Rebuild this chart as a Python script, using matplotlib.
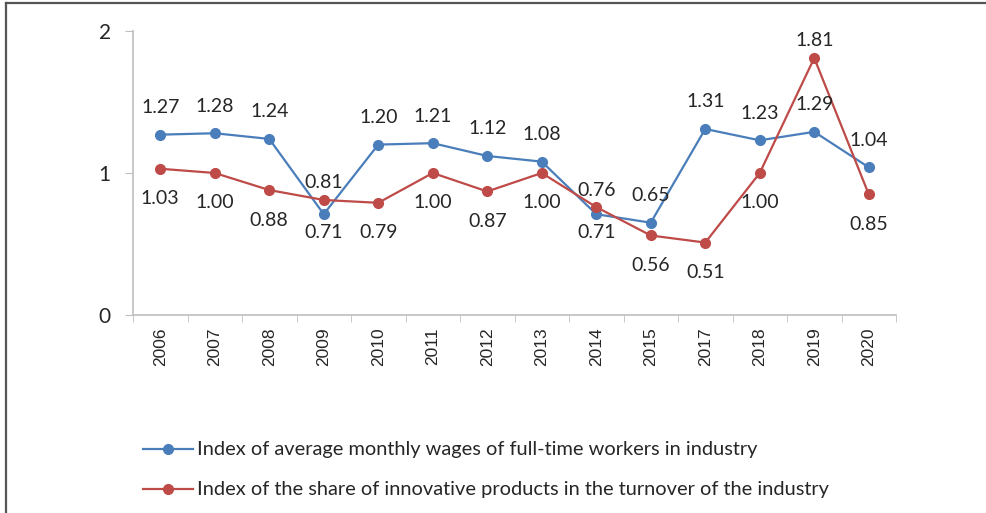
import numpy as np
import matplotlib
matplotlib.use('Agg')
import matplotlib.pyplot as plt
from matplotlib.lines import Line2D

# values
years = ['2006', '2007', '2008', '2009', '2010', '2011', '2012', '2013',
         '2014', '2015', '2017', '2018', '2019', '2020']
wages = [1.27, 1.28, 1.24, 0.71, 1.20, 1.21, 1.12, 1.08, 0.71, 0.65, 1.31, 1.23, 1.29, 1.04]
innov = [1.03, 1.00, 0.88, 0.81, 0.79, 1.00, 0.87, 1.00, 0.76, 0.56, 0.51, 1.00, 1.81, 0.85]
wages_name = 'Index of average monthly wages of full-time workers in industry'
innov_name = 'Index of the share of innovative products in the turnover of the industry'

# points whose label sits on the "other" side
wages_flip = [3, 8]
innov_flip = [3, 8, 12]

blue = '#4a7ebb'
red = '#be4b48'
txt = '#262626'
axcol = '#bfbfbf'
lab_font = 'Lato'

plt.rcParams['font.family'] = ['Liberation Sans', 'DejaVu Sans']

fig = plt.figure(figsize=(9.86, 5.13), dpi=100)
ax = fig.add_axes([133/986, 1-315/513, (896-133)/986, (315-31)/513])

x = np.arange(len(years))
ax.plot(x, wages, color=blue, lw=1.6, marker='o', ms=7, label=wages_name)
ax.plot(x, innov, color=red, lw=1.6, marker='o', ms=7, label=innov_name)

def put_labels(vals, above, flips):
    for i, v in enumerate(vals):
        up = above if i not in flips else not above
        if i in flips:
            off = 17 if up else -18
        else:
            off = 27 if up else -30
        ax.annotate('%.2f' % v, (x[i], v), xytext=(0, off * 0.72), textcoords='offset points',
                    ha='center', va='center', fontsize=14, family=lab_font, color=txt)

put_labels(wages, True, wages_flip)
put_labels(innov, False, innov_flip)

ax.set_xlim(-0.5, len(years) - 0.5)
ax.set_ylim(0, 2)
ax.set_yticks([0, 1, 2])
ax.set_xticks(x)
ax.set_xticklabels(years, rotation=90)
ax.set_xticks(np.arange(-0.5, len(years)), minor=True)
ax.tick_params(axis='x', which='major', length=0, pad=9, labelsize=12.5, labelcolor=txt)
ax.tick_params(axis='x', which='minor', length=5, color=axcol, direction='out')
ax.tick_params(axis='y', length=6, color=axcol, pad=10, labelsize=15, labelcolor=txt)
for lbl in ax.get_yticklabels():
    lbl.set_family(lab_font)
for s in ['top', 'right']:
    ax.spines[s].set_visible(False)
for s in ['left', 'bottom']:
    ax.spines[s].set_color(axcol)
    ax.spines[s].set_linewidth(1.2)

fig.legend(loc='center left', bbox_to_anchor=(143/986, 1-470/513), frameon=False,
           borderpad=0, borderaxespad=0, handlelength=2.5, handletextpad=0.2,
           labelspacing=1.15, prop={'family': lab_font, 'size': 14.4}, labelcolor=txt)

# outer frame (top and left edges)
fig.add_artist(Line2D([6/986, 1], [1-3/513, 1-3/513], transform=fig.transFigure, color='#555555', lw=1.6))
fig.add_artist(Line2D([6/986, 6/986], [0, 1-3/513], transform=fig.transFigure, color='#555555', lw=1.6))

fig.savefig('out.png', dpi=100)
